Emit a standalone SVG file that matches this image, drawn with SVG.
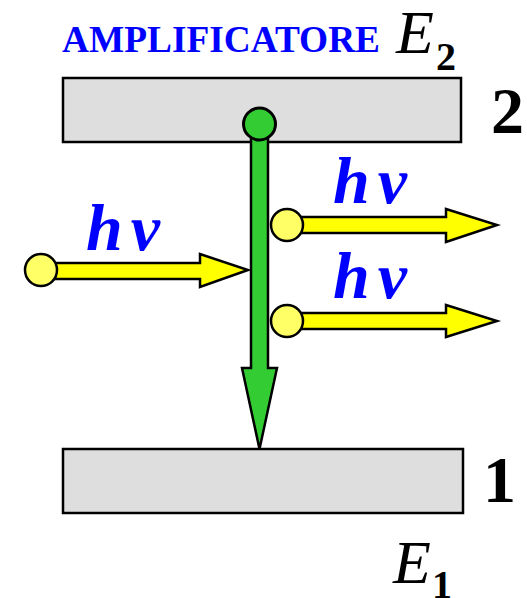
<svg xmlns="http://www.w3.org/2000/svg" width="527" height="598" viewBox="0 0 527 598">
<style>
.bar{fill:#dedede;stroke:#000;stroke-width:2.5}
.ph{fill:#ffff00;stroke:#000;stroke-width:2.5;stroke-linejoin:miter}
.pc{fill:#ffff66;stroke:#000;stroke-width:2.5}
.hv{font-family:"Liberation Serif",serif;font-style:italic;font-weight:bold;font-size:66px;fill:#0000ff;letter-spacing:8px}
.lbl{font-family:"Liberation Serif",serif;font-weight:bold;font-size:66px;fill:#000}
.E{font-family:"Liberation Serif",serif;font-style:italic;font-size:62px;fill:#000}
.sub{font-family:"Liberation Serif",serif;font-weight:bold;font-size:40px;fill:#000}
</style>
<rect width="527" height="598" fill="#fff"/>
<g id="title">
<text x="62" y="52" font-family="Liberation Serif,serif" font-weight="bold" font-size="38" fill="#0000ff" textLength="318" lengthAdjust="spacingAndGlyphs">AMPLIFICATORE</text>
<text x="396" y="53" class="E">E</text><text x="436" y="70" class="sub">2</text>
</g>
<g id="level2">
<rect class="bar" x="63" y="78" width="398" height="64"/>
<text x="491" y="133" class="lbl">2</text>
</g>
<g id="level1">
<rect class="bar" x="63" y="449" width="400" height="64"/>
<text x="483" y="502" class="lbl">1</text>
<text x="393" y="583" class="E">E</text><text x="432" y="598" class="sub">1</text>
</g>
<g id="connectors">
<polygon id="transition" points="251,136 268,136 268,368 277,368 259.5,449 242,368 251,368" fill="#33cc33" stroke="#000" stroke-width="2.5"/>
<polygon id="photon-in" class="ph" points="55,263 200,263 200,254 248,270 200,287 200,279 55,279"/>
<polygon id="photon-out1" class="ph" points="300,217 446,217 446,209 497,225 446,242 446,233 300,233"/>
<polygon id="photon-out2" class="ph" points="300,313 446,313 446,305 497,321 446,337 446,329 300,329"/>
</g>
<g id="atom">
<circle cx="259.5" cy="124" r="16" fill="#33cc33" stroke="#000" stroke-width="3"/>
</g>
<g id="photon1">
<circle class="pc" cx="41" cy="270" r="16"/>
<text x="86" y="250" class="hv">hν</text>
</g>
<g id="photon2">
<circle class="pc" cx="287" cy="225" r="16"/>
<text x="333" y="203" class="hv">hν</text>
</g>
<g id="photon3">
<circle class="pc" cx="287" cy="321" r="16"/>
<text x="333" y="298" class="hv">hν</text>
</g>
</svg>
